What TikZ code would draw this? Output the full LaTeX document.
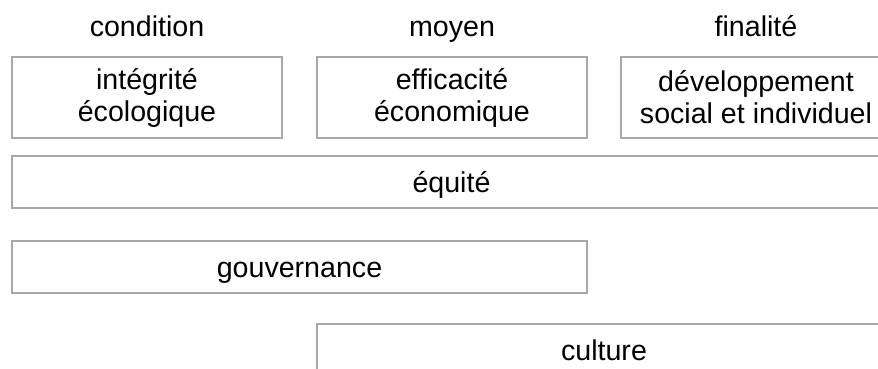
\documentclass[tikz,border=0pt]{standalone}
\usepackage{fontspec}
\setmainfont{Liberation Sans}
\usetikzlibrary{positioning}

\definecolor{rim}{HTML}{A8A8A8}
\newcommand{\boxfont}{\fontsize{14.3}{16}\selectfont}

\tikzset{
    pillar/.style={draw=rim, line width=0.75pt, inner sep=0pt, align=center,
        font=\boxfont, minimum width=135pt, minimum height=40.5pt},
    band/.style={draw=rim, line width=0.75pt, inner sep=0pt, align=center,
        font=\boxfont, minimum height=26pt, text height=12pt, text depth=2pt},
    heading/.style={anchor=base, inner sep=0pt, font=\boxfont}
}

\begin{document}
\begin{tikzpicture}[x=0.5pt, y=-0.5pt]
        \useasboundingbox (0,0) rectangle (878,369);
        \clip (0,0) rectangle (878,369);
        % titres
        \node[heading] (cond) at (147,37) {condition};
        \node[heading] (moy) at (452,37) {moyen};
        \node[heading] (fin) at (756,37) {finalité};
        % trois piliers
        \node[pillar] (integ) at (147,97.5) {intégrité\\écologique};
        \node[pillar] (effic) at (452,97.5) {efficacité\\économique};
        \node[pillar] (devel) at (756,97.5) {développement\\social et individuel};
        % bandes
        \node[band, minimum width=439.5pt] (equite) at (451.5,182) {équité};
        \node[band, minimum width=287.5pt] (gouv) at (299.5,267) {gouvernance};
        \node[band, minimum width=287pt] (cult) at (604,350) {culture};
    \end{tikzpicture}
\end{document}
